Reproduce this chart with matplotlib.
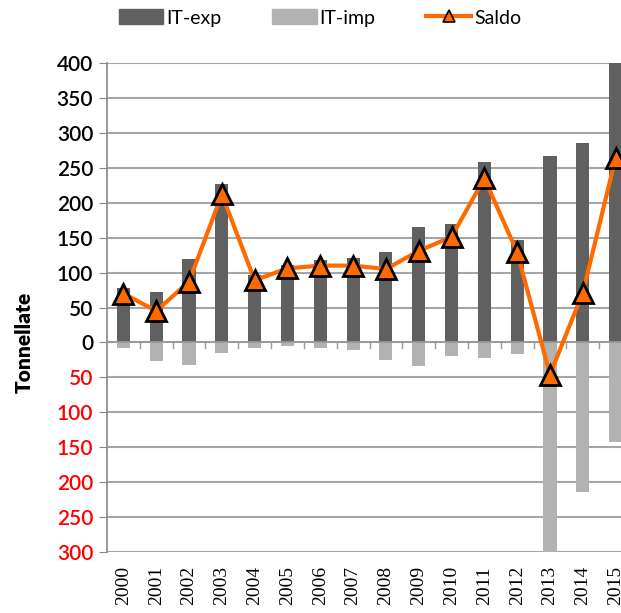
import numpy as np
import matplotlib.pyplot as plt
from matplotlib.lines import Line2D
from matplotlib.patches import Patch

# Dati (tonnellate)
anni = [str(a) for a in range(2000, 2016)]
it_exp = [78, 72, 120, 227, 97, 111, 118, 121, 130, 165, 170, 258, 146, 267, 285, 407]
it_imp = [8, 27, 33, 15, 8, 5, 8, 11, 25, 34, 19, 23, 17, 313, 214, 143]
saldo = [70, 45, 87, 212, 89, 106, 110, 110, 105, 131, 151, 235, 129, -46, 71, 264]

col_exp = '#606060'
col_imp = '#b2b2b2'
col_saldo = '#ff6a00'

plt.rcParams['font.family'] = ['Lato', 'DejaVu Sans']

fig = plt.figure(figsize=(6.21, 6.13), dpi=100)
# l'asse continua oltre il bordo destro della figura
ax = fig.add_axes([107 / 621, 1 - 552 / 613, 525 / 621, (552 - 63) / 613])

x = np.arange(len(anni))
ax.bar(x, it_exp, width=0.4, color=col_exp, zorder=2)
ax.bar(x, [-v for v in it_imp], width=0.4, color=col_imp, zorder=2)
ax.plot(x, saldo, color=col_saldo, lw=3, marker='^', ms=14,
        mfc=col_saldo, mec='black', mew=2, zorder=4, clip_on=False)

ax.set_ylim(-300, 400)
ax.set_xlim(-0.5, len(anni) - 0.5)
ticks = list(range(-300, 401, 50))
ax.set_yticks(ticks)
ax.set_yticklabels([str(abs(t)) for t in ticks], fontsize=15, fontweight='semibold')
for t, lab in zip(ticks, ax.get_yticklabels()):
    if t < 0:
        lab.set_color('red')
ax.yaxis.grid(True, color='#a6a6a6', lw=1.5, zorder=0)
ax.tick_params(axis='y', length=6, color='#888888', pad=4)

# asse x sullo zero con tacche tra le categorie
ax.axhline(0, color='#999999', lw=1.2, zorder=3)
ax.set_xticks([])
for k in range(1, len(anni)):
    ax.plot([k - 0.5, k - 0.5], [0, -8], color='#999999', lw=1, zorder=3)
for i, a in enumerate(anni):
    ax.text(i, -320, a, rotation=90, ha='center', va='top', fontsize=14,
            family='Liberation Serif')

for s in ['top', 'right', 'bottom']:
    ax.spines[s].set_visible(False)
ax.spines['left'].set_color('#888888')
ax.spines['left'].set_linewidth(1.2)

fig.text(24 / 621, 1 - 342 / 613, 'Tonnellate', rotation=90, ha='center',
         va='center', fontsize=15, fontweight='heavy')

handles = [Patch(color=col_exp, label='IT-exp'),
           Patch(color=col_imp, label='IT-imp'),
           Line2D([], [], color=col_saldo, lw=3, marker='^', ms=8,
                  mfc=col_saldo, mec='black', mew=1.2, label='Saldo')]
fig.legend(handles=handles, loc='center', bbox_to_anchor=(0.515, 1 - 18 / 613),
           ncol=3, frameon=False, fontsize=14, handlelength=2.3,
           handleheight=0.8, columnspacing=2.6, handletextpad=0.15)

fig.savefig('out.png', dpi=100)
